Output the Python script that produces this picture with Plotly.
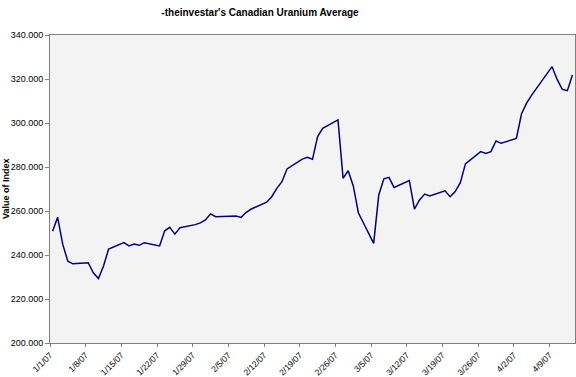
import plotly.graph_objects as go

dates = ["2007-01-01", "2007-01-02", "2007-01-03", "2007-01-04", "2007-01-05",
         "2007-01-08", "2007-01-09", "2007-01-10", "2007-01-11", "2007-01-12",
         "2007-01-15", "2007-01-16", "2007-01-17", "2007-01-18", "2007-01-19",
         "2007-01-22", "2007-01-23", "2007-01-24", "2007-01-25", "2007-01-26",
         "2007-01-29", "2007-01-30", "2007-01-31", "2007-02-01", "2007-02-02",
         "2007-02-05", "2007-02-06", "2007-02-07", "2007-02-08", "2007-02-09",
         "2007-02-12", "2007-02-13", "2007-02-14", "2007-02-15", "2007-02-16",
         "2007-02-19", "2007-02-20", "2007-02-21", "2007-02-22", "2007-02-23",
         "2007-02-26", "2007-02-27", "2007-02-28", "2007-03-01", "2007-03-02",
         "2007-03-05", "2007-03-06", "2007-03-07", "2007-03-08", "2007-03-09",
         "2007-03-12", "2007-03-13", "2007-03-14", "2007-03-15", "2007-03-16",
         "2007-03-19", "2007-03-20", "2007-03-21", "2007-03-22", "2007-03-23",
         "2007-03-26", "2007-03-27", "2007-03-28", "2007-03-29", "2007-03-30",
         "2007-04-02", "2007-04-03", "2007-04-04", "2007-04-05",
         "2007-04-09", "2007-04-10", "2007-04-11", "2007-04-12", "2007-04-13"]

values = [250.8, 257.1, 244.8, 237.2, 236.0,
          236.5, 231.9, 229.3, 235.0, 242.7,
          245.6, 244.1, 245.0, 244.4, 245.6,
          244.1, 251.0, 252.6, 249.5, 252.4,
          253.8, 254.6, 255.9, 258.7, 257.4,
          257.6, 257.7, 257.1, 259.4, 260.9,
          264.0, 266.5, 270.3, 273.3, 279.1,
          283.6, 284.4, 283.5, 293.8, 297.6,
          301.4, 274.9, 278.3, 271.4, 259.2,
          245.3, 267.3, 274.6, 275.3, 270.7,
          273.8, 260.9, 265.0, 267.7, 266.8,
          269.2, 266.5, 268.8, 272.9, 281.4,
          287.0, 286.2, 287.0, 291.8, 290.8,
          293.0, 304.1, 309.0, 312.7,
          325.6, 319.8, 315.3, 314.7, 321.8]

tick_dates = ["2007-01-01", "2007-01-08", "2007-01-15", "2007-01-22", "2007-01-29",
              "2007-02-05", "2007-02-12", "2007-02-19", "2007-02-26", "2007-03-05",
              "2007-03-12", "2007-03-19", "2007-03-26", "2007-04-02", "2007-04-09"]
tick_labels = ["1/1/07", "1/8/07", "1/15/07", "1/22/07", "1/29/07",
               "2/5/07", "2/12/07", "2/19/07", "2/26/07", "3/5/07",
               "3/12/07", "3/19/07", "3/26/07", "4/2/07", "4/9/07"]

y_ticks = [200, 220, 240, 260, 280, 300, 320, 340]
y_labels = ["200.000", "220.000", "240.000", "260.000", "280.000", "300.000", "320.000", "340.000"]

title_text = "-theinvestar's Canadian Uranium Average"
y_title = "Value of Index"

font_family = "Arial, Liberation Sans, sans-serif"

fig = go.Figure()
fig.add_trace(go.Scatter(
    x=[d + " 12:00" for d in dates],
    y=values,
    mode="lines",
    line=dict(color="#000080", width=1.5),
    hoverinfo="x+y",
))

W, H = 576, 377
ml, mr, mt, mb = 50, 1, 35, 34

fig.update_layout(
    width=W, height=H,
    margin=dict(l=ml, r=mr, t=mt, b=mb, autoexpand=False),
    paper_bgcolor="white",
    plot_bgcolor="#f3f3f3",
    showlegend=False,
    font=dict(family=font_family, size=9, color="black"),
    title=dict(
        text="<b>" + title_text + "</b>",
        x=260 / W, xanchor="center", xref="container",
        y=1 - 12 / H, yanchor="middle", yref="container",
        font=dict(family=font_family, size=10, color="black"),
    ),
    xaxis=dict(
        type="date",
        range=["2007-01-01", "2007-04-14"],
        tickmode="array",
        tickvals=tick_dates,
        ticktext=tick_labels,
        tickangle=-45,
        ticks="outside", ticklen=3, tickcolor="#808080",
        showline=True, linecolor="#808080", linewidth=1, mirror=True,
        showgrid=False, zeroline=False,
        tickfont=dict(family=font_family, size=8.5, color="black"),
        automargin=False,
    ),
    yaxis=dict(
        range=[200, 340],
        tickmode="array",
        tickvals=y_ticks,
        ticktext=y_labels,
        ticks="outside", ticklen=4, tickcolor="#808080",
        showline=True, linecolor="#808080", linewidth=1, mirror=True,
        showgrid=False, zeroline=False,
        tickfont=dict(family=font_family, size=9, color="black"),
        automargin=False,
    ),
    annotations=[dict(
        text="<b>" + y_title + "</b>",
        xref="paper", yref="paper",
        x=(6 - ml) / (W - ml - mr), y=0.5,
        xanchor="center", yanchor="middle",
        textangle=-90, showarrow=False,
        font=dict(family=font_family, size=9, color="black"),
    )],
)

fig.write_html(
    "out.html",
    config={"displayModeBar": False},
    post_script="document.body.style.margin='0';document.body.style.overflow='hidden';",
)
